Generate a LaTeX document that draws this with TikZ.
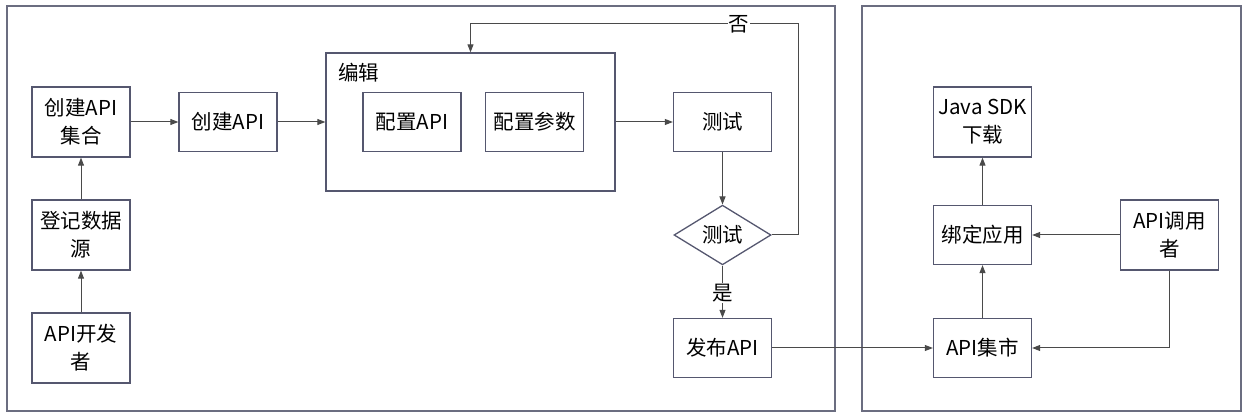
\documentclass[tikz,border=0pt]{standalone}
\usepackage{fontspec}
\setmainfont{Noto Sans CJK SC}
\usetikzlibrary{shapes.geometric, arrows.meta, positioning}
\definecolor{boxline}{HTML}{55576f}
\definecolor{linkgray}{HTML}{4a4a4a}
\definecolor{framegray}{HTML}{6b6d80}

\tikzset{
	stepbox/.style={draw=boxline, line width=1.3pt, minimum width=98pt, minimum height=59pt, align=center, inner sep=2pt},
	tallbox/.style={stepbox, minimum height=70pt},
	decide/.style={diamond, draw=boxline, line width=1.3pt, minimum width=97pt, minimum height=57pt, inner sep=0pt},
	link/.style={draw=linkgray, line width=1pt, -{Triangle[length=8pt,width=6pt]}},
	frame/.style={draw=framegray, line width=1.3pt},
	tag/.style={fill=white, inner sep=1pt},
}

\begin{document}
\begin{tikzpicture}[x=1pt, y=-1pt, font=\fontsize{20.5}{28}\selectfont]
						\useasboundingbox (0,0) rectangle (1247,419);
						\draw[frame] (7,6) rectangle (835,411);
						\draw[frame] (862,6) rectangle (1241,411);
						\node[tallbox] (setapi) at (81,122) {创建API\\集合};
						\node[tallbox] (source) at (81,235) {登记数据\\源};
						\node[tallbox] (dev) at (81,348) {API开发\\者};
						\node[stepbox] (createapi) at (228,122) {创建API};
						\node[stepbox, minimum width=289pt, minimum height=138pt] (edit) at (470.5,122) {};
						\node[anchor=west, inner sep=0pt] (editlabel) at (338,73) {编辑};
						\node[stepbox] (confapi) at (412,122) {配置API};
						\node[stepbox] (confparam) at (534.5,122) {配置参数};
						\node[stepbox] (test) at (722.5,122) {测试};
						\node[decide] (check) at (722.5,235) {测试};
						\node[stepbox] (publish) at (722.5,348) {发布API};
						\node[tallbox] (sdk) at (982.5,122) {Java SDK\\下载};
						\node[stepbox] (bind) at (982.5,235) {绑定应用};
						\node[stepbox] (market) at (982.5,348) {API集市};
						\node[tallbox] (caller) at (1169.5,235) {API调用\\者};
						\coordinate (back) at (798,24);
						\draw[link] (dev) -- (source);
						\draw[link] (source) -- (setapi);
						\draw[link] (setapi) -- (createapi);
						\draw[link] (createapi) -- (edit);
						\draw[link] (edit) -- (test);
						\draw[link] (test) -- (check);
						\draw[link] (check.east) -| (back) -| (edit.north);
						\node[tag] (no) at (739,24) {否};
						\draw[link] (check) -- (publish);
						\node[tag] (yes) at (722.5,293) {是};
						\draw[link] (publish) -- (market);
						\draw[link] (market) -- (bind);
						\draw[link] (bind) -- (sdk);
						\draw[link] (caller) -- (bind);
						\draw[link] (caller.south) |- (market.east);
					\end{tikzpicture}
\end{document}
